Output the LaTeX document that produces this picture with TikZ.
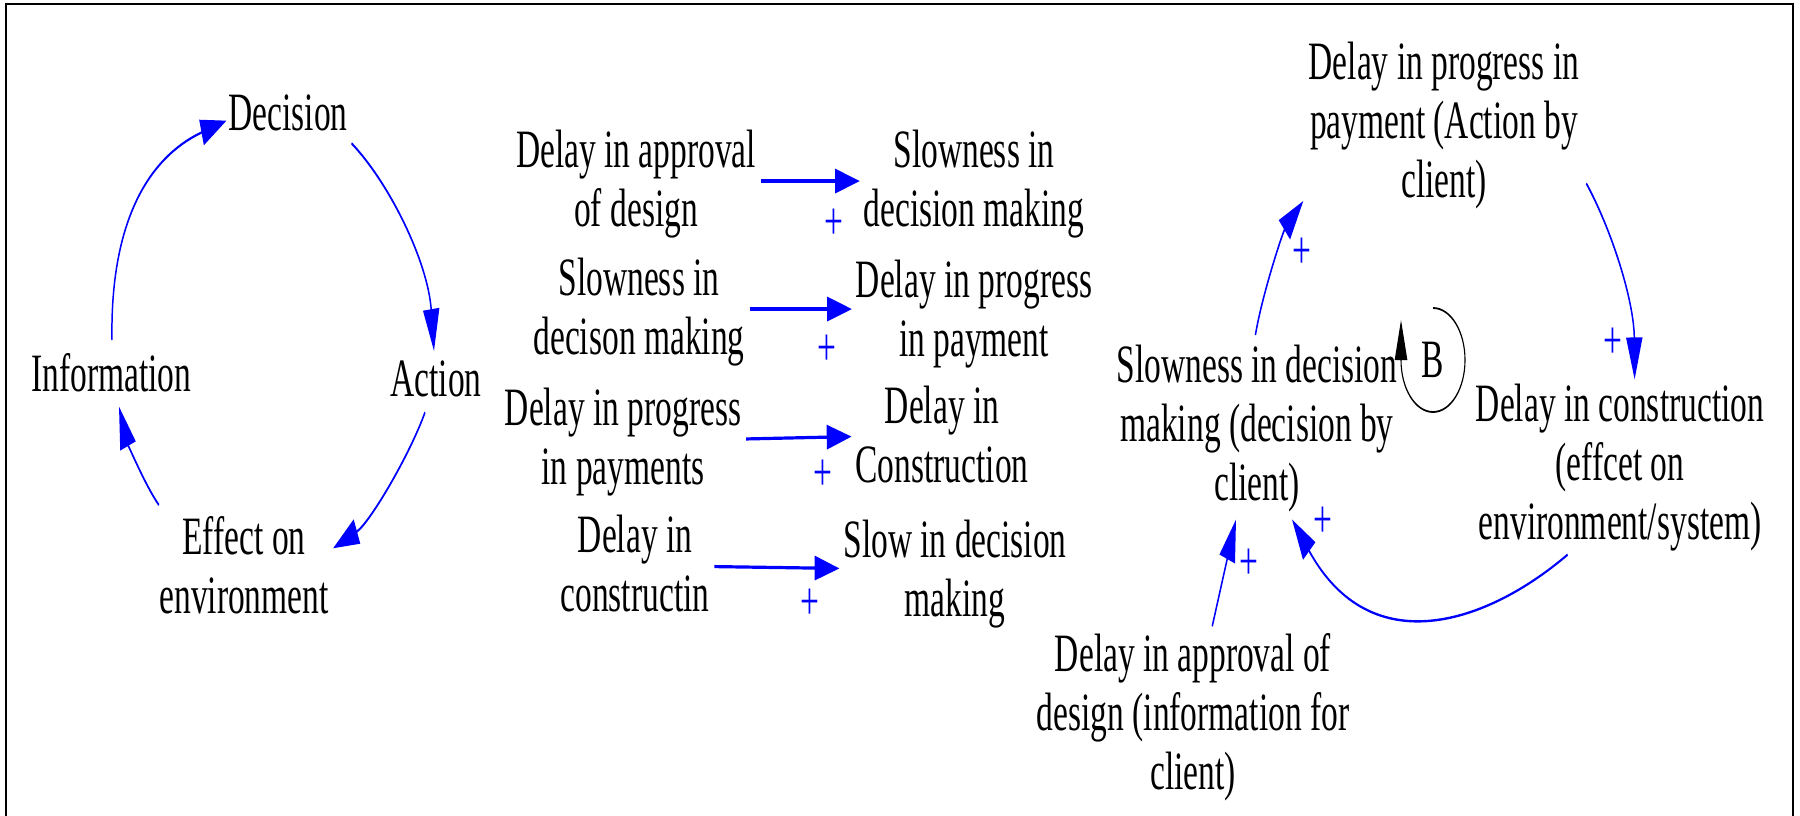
\documentclass[tikz,border=0pt]{standalone}
\usepackage{fontspec}
\setmainfont{Liberation Serif}
\usetikzlibrary{arrows.meta,calc}
\definecolor{cldblue}{RGB}{0,0,255}
\tikzset{
  lbl/.style={inner sep=0pt, outer sep=0pt, align=center, anchor=north,
    font=\fontsize{13.5}{14.75}\selectfont},
  sign/.style={inner sep=0pt, outer sep=0pt, text=cldblue,
    font=\fontsize{13.5}{14.75}\selectfont},
  link/.style={draw=cldblue, line width=0.6pt,
    -{Triangle[length=10.5pt,width=6.5pt]}},
  flow/.style={draw=cldblue, line width=0.8pt,
    -{Triangle[length=10pt,width=6pt]}},
  loopline/.style={draw=black, line width=0.45pt,
    -{Triangle[length=10pt,width=5pt]}},
  frame/.style={draw=black, line width=0.5pt}
}
\begin{document}
\begin{tikzpicture}[x=0.25pt, y=-0.25pt]
\useasboundingbox (0,0) rectangle (1800,815);
\draw[frame] (5.7,830) -- (5.7,3.5) -- (1793,3.5) -- (1793,830);

\begin{scope}[transform canvas={xscale=0.62}, x=0.403226pt, y=-0.25pt]
% ---- generic cycle ----
\node[lbl] (Decision) at (288,95) {Decision};
\node[lbl] (Action) at (436,361) {Action};
\node[lbl] (Effect) at (244,516) {Effect on\\environment};
\node[lbl] (Information) at (111.5,353) {Information};

\draw[link] ([shift={(4,12)}]Decision.south east)
  .. controls +(38,40) and +(-6,-89) .. ([shift={(-2,-10)}]Action.north);
\draw[link] ([shift={(-11,15)}]Action.south)
  .. controls +(-15,42) and +(37,-26) .. ([shift={(4.5,-16.5)}]Effect.east);
\draw[link] ([shift={(-0.5,-11)}]Effect.north west)
  .. controls +(-14,-20) and +(8,35) .. ([shift={(7.5,15)}]Information.south);
\draw[link] ([shift={(0.5,-13)}]Information.north)
  .. controls +(-2,-115) and +(-80,38) .. ([shift={(-2,7.5)}]Decision.west);

% ---- pairwise links ----
\node[lbl] (R1L) at (636,130) {Delay in approval\\of design};
\node[lbl] (R1R) at (974,130) {Slowness in\\decision making};
\node[lbl] (R2L) at (639,258) {Slowness in\\decison making};
\node[lbl] (R2R) at (974,260) {Delay in progress\\in payment};
\node[lbl] (R3L) at (623,388) {Delay in progress\\in payments};
\node[lbl] (R3R) at (942,386) {Delay in\\Construction};
\node[lbl] (R4L) at (635,515) {Delay in\\constructin};
\node[lbl] (R4R) at (955,520) {Slow in decision\\making};

\draw[flow, shorten <=2pt, shorten >=1.6pt]
  ($(R1L.east)+(0,-3)$) -- ($(R1L.east -| R1R.west)+(0,-3)$);
\draw[flow, shorten <=2pt, shorten >=1.6pt]
  ($(R2L.east)+(0,-3)$) -- ($(R2L.east -| R2R.west)+(0,-3)$);
\draw[flow, shorten <=2pt, shorten >=1.6pt]
  ($(R3L.east)+(0,-3)$) -- ($(R3R.west)+(0,2)$);
\draw[flow, shorten <=2pt, shorten >=1.6pt]
  ($(R4L.east)+(0,3)$) -- ($(R4L.east -| R4R.west)+(0,5)$);

\node[sign] (p1) at (834,224) {+};
\node[sign] (p2) at (827,350) {+};
\node[sign] (p3) at (823,475) {+};
\node[sign] (p4) at (810,604) {+};

% ---- client balancing loop ----
\node[lbl] (Top) at (1444,42) {Delay in progress in\\payment (Action by\\client)};
\node[lbl] (Slow) at (1257,345) {Slowness in decision\\making (decision by\\client)};
\node[lbl] (Right) at (1620,384) {Delay in construction\\(effcet on\\environment/system)};
\node[lbl] (Bot) at (1193,633) {Delay in approval of\\design (information for\\client)};
\node[lbl, anchor=center] (B) at (1433,360) {B};

\draw[link] ([shift={(-1.6,-10)}]Slow.north)
  .. controls +(6.6,-40) and +(-20.6,31.4) .. ([shift={(-5.4,-8)}]Top.south west);
\draw[link] ([shift={(7,-25.6)}]Top.south east)
  .. controls +(25,46) and +(-0.6,-79.4) .. ([shift={(14.6,-4.6)}]Right.north);
\draw[link] ([shift={(-52.4,3.5)}]Right.south)
  .. controls +(-79,67.6) and +(79,144.9) .. ([shift={(35,7.5)}]Slow.south);
\draw[link] ([shift={(19.2,-6.7)}]Bot.north) -- ([shift={(-21,7.5)}]Slow.south);

\draw[loopline] ([shift={(0,-52)}]B.center)
  arc[start angle=-90, end angle=180, x radius=32, y radius=52] -- ++(0,-40);

\node[sign] (p5) at (1301.8,253.6) {+};
\node[sign] (p6) at (1612.6,343) {+};
\node[sign] (p7) at (1323.3,522.4) {+};
\node[sign] (p8) at (1249,564) {+};
\end{scope}
\end{tikzpicture}
\end{document}
